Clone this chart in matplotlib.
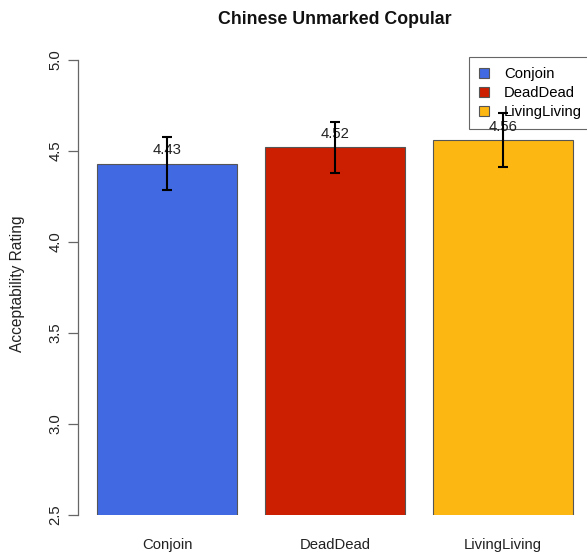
import matplotlib
matplotlib.use("Agg")
import matplotlib.pyplot as plt
from matplotlib.patches import Patch

plt.rcParams['font.family'] = ['Liberation Sans', 'DejaVu Sans']

conditions = ["Conjoin", "DeadDead", "LivingLiving"]
ratings = [4.43, 4.52, 4.56]
std_errors = [0.147, 0.140, 0.150]
colors = ["#4169E1", "#CC1E00", "#FDB713"]
yticks = [2.5, 3.0, 3.5, 4.0, 4.5, 5.0]

W, H = 587, 552
FS = 10.7
fig = plt.figure(figsize=(W / 100, H / 100), dpi=100)

# plot region in pixel units (R-style barplot layout)
left_px, right_px, top_px, bottom_px = 78, 592, 60, 515
ax = fig.add_axes([left_px / W, 1 - bottom_px / H,
                   (right_px - left_px) / W, (bottom_px - top_px) / H])

# R barplot geometry: width 1, space 0.2
xs = [0.2 + 1.2 * i + 0.5 for i in range(len(conditions))]
ax.bar(xs, ratings, width=1.0, color=colors, edgecolor="#555555",
       linewidth=0.8, zorder=2)
ax.errorbar(xs, ratings, yerr=std_errors, fmt="none", ecolor="black",
            elinewidth=1.5, capsize=3.8, capthick=1.5, zorder=5)
for x, v in zip(xs, ratings):
    ax.text(x, v + 0.074, f"{v:.2f}", ha="center", va="center",
            fontsize=FS, color="#222222", zorder=4)

ax.set_xlim(0.064, 0.064 + (right_px - left_px) / 140)
ax.set_ylim(2.5, 5.0)
ax.set_yticks(yticks)
ax.set_yticklabels([f"{t:.1f}" for t in yticks], rotation=90, va="center",
                   fontsize=FS, color="#222222")
ax.tick_params(axis="y", length=7, width=0.9, color="#666666", pad=4)
ax.set_xticks([])
for s in ["top", "right", "bottom"]:
    ax.spines[s].set_visible(False)
ax.spines["left"].set_color("#666666")
ax.spines["left"].set_linewidth(0.9)

for x, name in zip(xs, conditions):
    fig.text((left_px + (x - 0.064) * 140) / W, 1 - 545 / H, name,
             ha="center", va="center", fontsize=FS, color="#222222")

fig.text(18 / W, 1 - 284 / H, "Acceptability Rating", rotation=90,
         ha="center", va="center", fontsize=11.2, color="#222222")
fig.text(335 / W, 1 - 20 / H, "Chinese Unmarked Copular", ha="center",
         va="center", fontsize=12.8, fontweight="bold", color="#111111")

handles = [Patch(facecolor=c, edgecolor="#555555", linewidth=0.8) for c in colors]
leg = ax.legend(handles, conditions, loc="upper right",
                bbox_to_anchor=(right_px / W, 1 - 57 / H),
                bbox_transform=fig.transFigure, borderaxespad=0,
                fontsize=FS, fancybox=False, framealpha=1,
                handlelength=0.7, handleheight=0.7, handletextpad=1.0,
                labelspacing=0.33, borderpad=0.68)
leg.get_frame().set_edgecolor("#666666")
leg.get_frame().set_linewidth(0.8)
leg.set_zorder(3)

fig.savefig("out.png", dpi=100)
